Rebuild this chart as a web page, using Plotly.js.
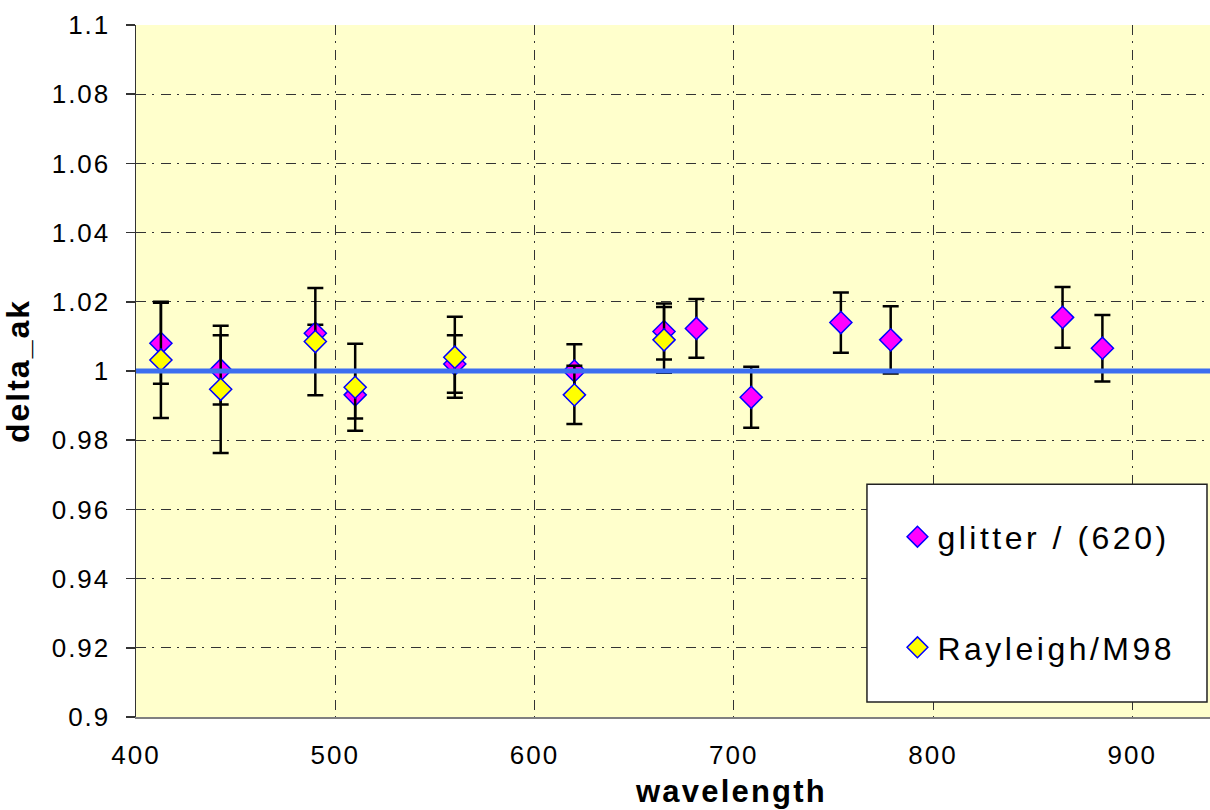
<!DOCTYPE html>
<html>
<head>
<meta charset="utf-8">
<script src="https://cdn.plot.ly/plotly-3.0.1.min.js"></script>
<style>
  html, body { margin: 0; padding: 0; background: #ffffff; }
  #chart { width: 1210px; height: 810px; }
  .xtick text, .ytick text { letter-spacing: 2px; }
  .legendtext { letter-spacing: 3.5px; }
  .ytitle { letter-spacing: 2px; }
  .annotation-text { letter-spacing: 2.2px; }
</style>
</head>
<body>
<div id="chart"></div>
<script>
// ---- data ----
const seriesNames = ["glitter / (620)", "Rayleigh/M98"];

const glitterWavelength = [412.5, 442.5, 490, 510, 560, 620, 665, 681.25, 708.75, 753.75, 778.75, 865, 885];
const glitterValue      = [1.0080, 1.0003, 1.0109, 0.9931, 1.0020, 1.0000, 1.0114, 1.0123, 0.9924, 1.0140, 1.0090, 1.0155, 1.0066];
const glitterError      = [0.0117, 0.0100, 0.0025, 0.0068, 0.0083, 0.0077, 0.0081, 0.0085, 0.0088, 0.0087, 0.0097, 0.0088, 0.0096];

const rayleighWavelength = [412.5, 442.5, 490, 510, 560, 620, 665];
const rayleighValue      = [1.0032, 0.9947, 1.0085, 0.9953, 1.0040, 0.9931, 1.0090];
const rayleighError      = [0.0168, 0.0184, 0.0155, 0.0126, 0.0117, 0.0084, 0.0095];

const xRange = [400, 939];
const yRange = [0.9, 1.1];
const refLevel = 1;
const xTickVals = [400, 500, 600, 700, 800, 900];
const yTickVals = [0.9, 0.92, 0.94, 0.96, 0.98, 1, 1.02, 1.04, 1.06, 1.08, 1.1];

// ---- chart ----
const FONT = "Liberation Sans, Arial, sans-serif";
const errStyle = { type: "data", visible: true, color: "#000000", thickness: 2.5, width: 8 };

const traces = [
  {
    type: "scatter", mode: "markers", name: seriesNames[0],
    x: glitterWavelength, y: glitterValue,
    error_y: Object.assign({ array: glitterError }, errStyle),
    marker: { symbol: "diamond", size: 17, color: "#FF00FF", line: { color: "#0000FF", width: 1.5 } },
    legendgroup: "g1", legendrank: 1
  },
  {
    type: "scatter", mode: "markers", name: seriesNames[1],
    x: rayleighWavelength, y: rayleighValue,
    error_y: Object.assign({ array: rayleighError }, errStyle),
    marker: { symbol: "diamond", size: 17, color: "#FFFF00", line: { color: "#0000FF", width: 1.5 } },
    legendgroup: "g2", legendrank: 2
  },
  {
    type: "scatter", mode: "lines", name: "reference",
    x: xRange, y: xRange.map(() => refLevel),
    line: { color: "#3c6ef0", width: 5 },
    showlegend: false, hoverinfo: "skip"
  }
];

const layout = {
  width: 1210, height: 810,
  margin: { l: 136, r: 0, t: 25, b: 93, pad: 0 },
  paper_bgcolor: "#ffffff",
  plot_bgcolor: "#FFFFCC",
  font: { family: FONT, color: "#000000", size: 26 },
  showlegend: true,
  xaxis: {
    range: xRange, tickvals: xTickVals, ticks: "",
    ticklabelstandoff: 14,
    tickfont: { family: FONT, size: 26, color: "#000000" },
    showgrid: true, gridcolor: "#333333", gridwidth: 1, griddash: "10px,6px,2px,7px",
    showline: true, linecolor: "#808080", linewidth: 2,
    zeroline: false, fixedrange: true
  },
  yaxis: {
    range: yRange, tickvals: yTickVals, ticks: "outside", ticklen: 9, tickwidth: 1.5, tickcolor: "#333333",
    ticklabelstandoff: 10,
    tickfont: { family: FONT, size: 26, color: "#000000" },
    showgrid: true, gridcolor: "#333333", gridwidth: 1, griddash: "10px,6px,2px,7px",
    showline: true, linecolor: "#333333", linewidth: 1.5,
    zeroline: false, fixedrange: true,
    title: { text: "delta_ak", font: { family: FONT, size: 32, weight: "bold", color: "#000000" }, standoff: 16 }
  },
  legend: {
    x: 0.709, xanchor: "left", y: 0.30, yanchor: "top",
    bgcolor: "rgba(0,0,0,0)", borderwidth: 0,
    font: { family: FONT, size: 32, color: "#000000" },
    traceorder: "grouped", tracegroupgap: 66
  },
  shapes: [
    { type: "rect", xref: "paper", yref: "paper", x0: 0.6806, x1: 0.9972, y0: 0.0217, y1: 0.3364,
      fillcolor: "#ffffff", line: { color: "#222222", width: 1.5 }, layer: "above" }
  ],
  annotations: [
    { text: "wavelength", xref: "paper", yref: "paper", x: 0.554, y: -0.1345, xanchor: "center", yanchor: "bottom",
      borderpad: 0, showarrow: false, font: { family: FONT, size: 31, weight: "bold", color: "#000000" } }
  ]
};

Plotly.newPlot("chart", traces, layout, { displayModeBar: false, staticPlot: true });
</script>
</body>
</html>
